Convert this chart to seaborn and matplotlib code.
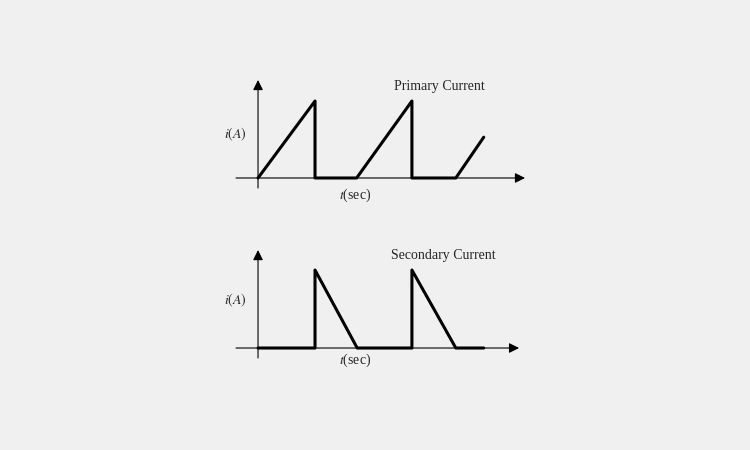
import matplotlib
matplotlib.use('Agg')
import matplotlib.pyplot as plt
import seaborn as sns
import pandas as pd

sns.set_style('white')
plt.rcParams['font.family'] = ['Liberation Serif', 'DejaVu Serif']
plt.rcParams['mathtext.fontset'] = 'stix'

# waveform data (t in units of the on-time, i normalised to peak)
primary_t = [0, 1, 1, 1.73, 2.70, 2.70, 3.47, 3.96]
primary_i = [0, 1, 0, 0, 1, 0, 0, 0.53]
secondary_t = [0, 1, 1, 1.74, 2.70, 2.70, 3.47, 3.96]
secondary_i = [0, 0, 1, 0, 0, 1, 0, 0]

titles = ['Primary Current', 'Secondary Current']
ylabel = r'$i(A)$'
xlabel = r'$t$(sec)'

bg = '#f0f0f0'
fig = plt.figure(figsize=(7.5, 4.5), dpi=100, facecolor=bg)

# axes placed in pixel terms: [left, bottom, width, height] / figure size
ax_top = fig.add_axes([220 / 750, 1 - 200 / 450, 320 / 750, 130 / 450])
ax_bot = fig.add_axes([220 / 750, 1 - 375 / 450, 320 / 750, 135 / 450])

panels = [
    (ax_top, primary_t, primary_i, (-0.286, 1.403), 4.684, 1.273, -0.13, 1.195, -0.22, 0.57),
    (ax_bot, secondary_t, secondary_i, (-0.346, 1.385), 4.58, 1.256, -0.128, 1.19, -0.154, 0.615),
]

for k, (ax, t, i, ylim, xtip, ytip, ybot, ttl_y, xl_y, yl_y) in enumerate(panels):
    df = pd.DataFrame({'t': t, 'i': i})
    ax.set_facecolor(bg)
    ax.set_xlim(-0.667, 4.947)
    ax.set_ylim(*ylim)
    ax.axis('off')

    # coordinate axes with arrow heads
    arrow = dict(arrowstyle='-|>', color='black', lw=0.8, mutation_scale=15,
                 shrinkA=0, shrinkB=0)
    ax.annotate('', xy=(xtip, 0), xytext=(-0.386, 0), arrowprops=arrow)
    ax.annotate('', xy=(0, ytip), xytext=(0, ybot), arrowprops=arrow)

    sns.lineplot(data=df, x='t', y='i', sort=False, estimator=None,
                 color='black', lw=2.2, ax=ax)

    ax.text(3.18 if k == 0 else 3.25, ttl_y, titles[k], fontsize=10,
            ha='center', va='center')
    ax.text(-0.40, yl_y, ylabel, fontsize=10, ha='center', va='center')
    ax.text(1.70, xl_y, xlabel, fontsize=10, ha='center', va='center')

fig.savefig('out.png', dpi=100, facecolor=bg)
